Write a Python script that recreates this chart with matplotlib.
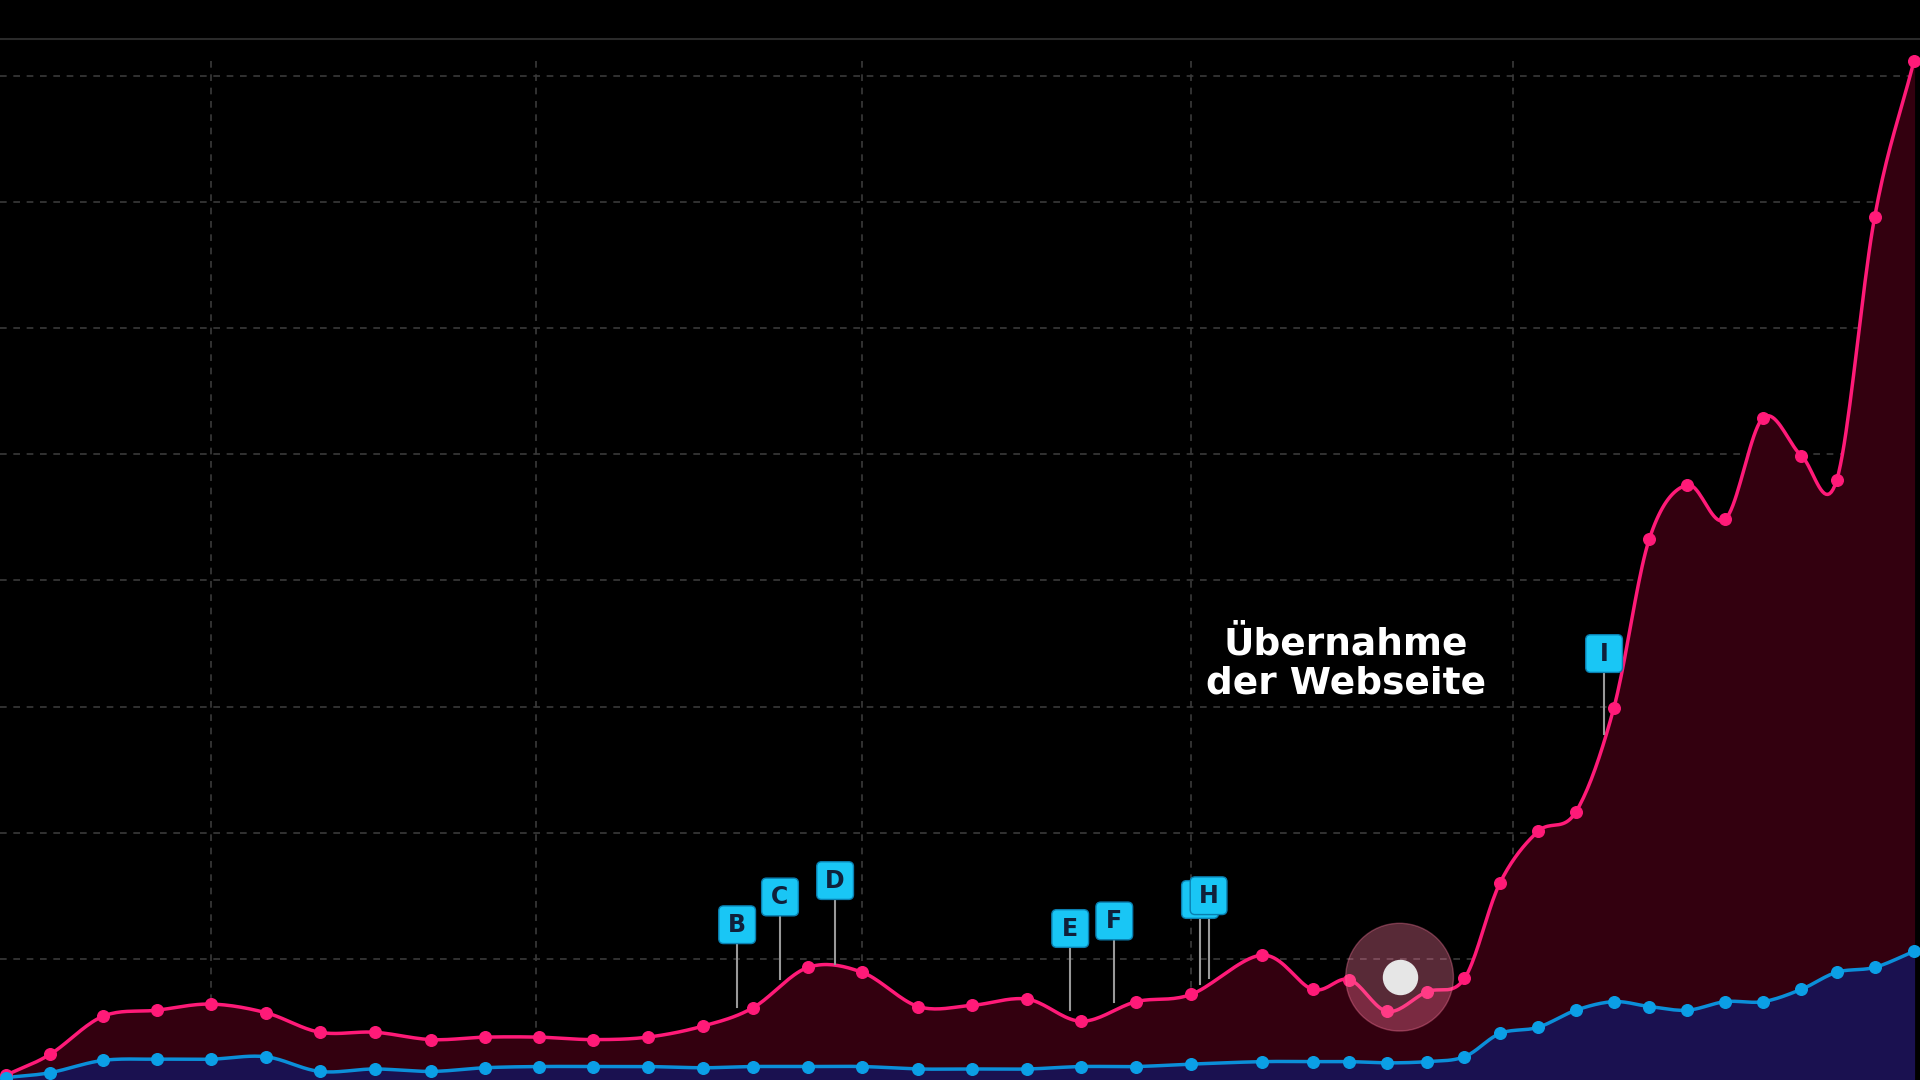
import numpy as np
import matplotlib
matplotlib.use("Agg")
import matplotlib.pyplot as plt
from matplotlib.patches import FancyBboxPatch, Ellipse

# x positions (time index, px-like units) and values in grid units
x_pos = [5,41,84,128,172,217,261,306,352,396,440,484,529,574,615,660,704,750,794,839,883,928,973,1031,1072,1102,1133,1165,1196,1225,1256,1287,1318,1347,1378,1409,1440,1471,1500,1531,1563]
pink_px = [878,861,830,825,820,827,843,843,849,847,847,849,847,838,823,790,794,822,821,816,834,818,812,780,808,800,826,810,799,721,679,663,578,440,396,424,341,372,392,177,50]
blue_px = [880,876,866,865,865,863,875,873,875,872,871,871,871,872,871,871,871,873,873,873,871,871,869,867,867,867,868,867,863,844,839,825,818,822,825,818,818,808,794,790,777]
pink = [(886-v)/103 for v in pink_px]
blue = [(886-v)/103 for v in blue_px]

flag_labels = ["B","C","D","E","F","G","H","I"]
flag_x = [602,637,682,874,910,980,987,1310]
flag_top = [1.27,1.49,1.62,1.24,1.30,1.47,1.50,3.42]
flag_base = [0.62,0.84,0.96,0.59,0.66,0.80,0.85,2.78]

def catmull(xs, ys, n=20):
    xs = np.asarray(xs, float); ys = np.asarray(ys, float)
    X = np.concatenate([[2*xs[0]-xs[1]], xs, [2*xs[-1]-xs[-2]]])
    Y = np.concatenate([[2*ys[0]-ys[1]], ys, [2*ys[-1]-ys[-2]]])
    ox, oy = [], []
    t = np.linspace(0, 1, n, endpoint=False)
    for i in range(1, len(X)-2):
        for arr, out in ((X, ox), (Y, oy)):
            p0, p1, p2, p3 = arr[i-1], arr[i], arr[i+1], arr[i+2]
            out.extend(0.5*((2*p1) + (-p0+p2)*t + (2*p0-5*p1+4*p2-p3)*t**2 + (-p0+3*p1-3*p2+p3)*t**3))
    ox.append(X[-2]); oy.append(Y[-2])
    return np.array(ox), np.array(oy)

fig = plt.figure(figsize=(19.2, 10.8), dpi=100, facecolor="black")
ax = fig.add_axes([0, 0, 1, 1])
ax.set_facecolor("black")
ax.set_xlim(0, 1568)
ax.set_ylim((886-882)/103, 886/103)
ax.axis("off")

for g in range(1, 9):
    ax.axhline((886-(783-103*(g-1)))/103, color="#3a3a3a", ls=(0, (4, 4)), lw=1.2, zorder=0)
for vx in [172, 438, 704, 973, 1236]:
    ax.plot([vx, vx], [0, (886-50)/103], color="#3a3a3a", ls=(0, (4, 4)), lw=1.2, zorder=0)
ax.axhline((886-32)/103, color="#2a2a2a", lw=1.5)

px, py = catmull(x_pos, pink)
bx, by = catmull(x_pos, blue)
ax.fill_between(px, 0, py, color="#33000f", zorder=1)
ax.fill_between(bx, 0, by, color="#1a1150", zorder=2)
ax.plot(px, py, color="#ff1a78", lw=2.5, zorder=3)
ax.plot(bx, by, color="#0b8fd9", lw=2.5, zorder=3)
ax.scatter(x_pos, pink, s=70, color="#ff1a78", zorder=4)
ax.scatter(x_pos, blue, s=70, color="#0b9fe6", zorder=4)

for k, (lab, fx, ft, fb) in enumerate(zip(flag_labels, flag_x, flag_top, flag_base)):
    z = 6 + 2*k
    ax.plot([fx, fx], [fb, ft], color="#999999", lw=1.5, zorder=5)
    ax.add_patch(FancyBboxPatch((fx-13, ft-0.13), 26, 0.26, boxstyle="round,pad=2,rounding_size=4",
                                mutation_aspect=1/103, facecolor="#19c6f5", edgecolor="#0a7fb0", lw=1, zorder=z))
    ax.text(fx, ft, lab, ha="center", va="center", fontsize=17 if lab != "G" else 1, fontweight="bold",
            color="#10203a", zorder=z+0.5)

ax.add_patch(Ellipse((1143, (886-798)/103), 88, 88/103, color="#ff7aa0", alpha=0.35, zorder=30))
ax.scatter([1143], [(886-798)/103], s=600, color="#e6e6e6", zorder=31)
ax.text(1099, (886-542)/103, "Übernahme\nder Webseite", ha="center", va="center", color="white",
        fontsize=27, fontweight="bold", linespacing=1.1, zorder=32)

fig.savefig("out.png", dpi=100, facecolor="black")
